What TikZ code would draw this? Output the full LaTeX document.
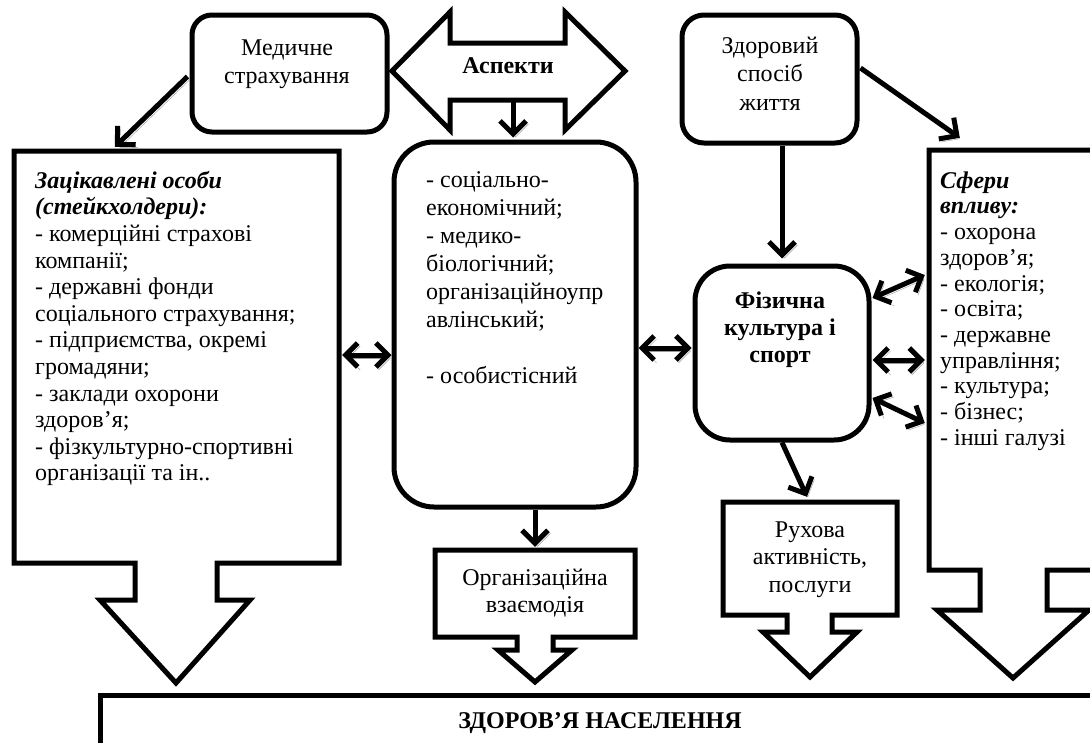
\documentclass[tikz,border=0pt]{standalone}
\usepackage{fontspec}
\setmainfont{Liberation Serif}
\usetikzlibrary{arrows.meta,calc}
\tikzset{
  box/.style={draw, line width=5pt, fill=white},
  rbox/.style={box, rounded corners=#1},
  ghost/.style={draw=none, inner sep=0pt},
  txt/.style={inner sep=0pt, font=\fontsize{24}{28}\selectfont},
  shad/.style={preaction={draw=black!40, transform canvas={shift={(2.5pt,-3pt)}}}},
  tip/.style={Straight Barb[length=13pt,width=26pt]},
  arr/.style={line width=5pt, -{Straight Barb[length=13pt,width=26pt]}, shad},
  darr/.style={line width=5pt, {Straight Barb[length=12pt,width=24pt]}-{Straight Barb[length=12pt,width=24pt]}, shad},
}
\newcommand{\fl}{\rule{0pt}{18pt}}
\begin{document}
\begin{tikzpicture}[x=1pt,y=-1pt]
\useasboundingbox (0,0) rectangle (1090,742);
\clip (0,0) rectangle (1090,742);
% ---------- boxes ----------
\node[rbox=20pt, minimum width=195pt, minimum height=117pt] (med) at (289.5,73.5) {};
\node[rbox=22pt, minimum width=175pt, minimum height=128pt] (hls) at (769.5,79) {};
\node[rbox=40pt, minimum width=242pt, minimum height=365pt] (aspbox) at (515,324.5) {};
\node[rbox=35pt, minimum width=174pt, minimum height=174pt] (phys) at (782,353) {};
% block arrows (shapes)
\draw[box, line join=miter] (14,151) -- (339,151) -- (339,563) -- (217,563) -- (217,600) -- (250,600) -- (176,683) -- (100,600) -- (135,600) -- (135,563) -- (14,563) -- cycle;
\draw[box, line join=miter] (435,550) -- (635,550) -- (635,637) -- (553,637) -- (553,650) -- (572,650) -- (535,682) -- (498,650) -- (517,650) -- (517,637) -- (435,637) -- cycle;
\draw[box, line join=miter] (723,502) -- (897,502) -- (897,615) -- (832,615) -- (832,632) -- (857,632) -- (810,677) -- (763,632) -- (787,632) -- (787,615) -- (723,615) -- cycle;
\draw[box, line join=miter] (929,150) -- (1110,150) -- (1110,570) -- (1047,570) -- (1047,610) -- (1089,610) -- (1013,678) -- (937,610) -- (980,610) -- (980,570) -- (929,570) -- cycle;
\draw[box, line join=miter] (100,695) rectangle (1110,770);
\draw[box, line join=miter] (392,71) -- (450,12) -- (450,43) -- (565,43) -- (565,12) -- (625,71) -- (565,130) -- (565,100) -- (450,100) -- (450,130) -- cycle;
% invisible frames of the block-arrow boxes
\node[ghost, minimum width=325pt, minimum height=412pt] (lbox) at (176.5,357) {};
\node[ghost, minimum width=200pt, minimum height=87pt] (org) at (535,593.5) {};
\node[ghost, minimum width=174pt, minimum height=113pt] (rukh) at (810,558.5) {};
\node[ghost, minimum width=171pt, minimum height=420pt] (rbox) at (1014.5,360) {};
% ---------- texts ----------
\node[txt, anchor=north, align=center, font=\fontsize{24}{28}\selectfont] (medt) at (287,37) {\fl Медичне\\ страхування};
\node[txt, anchor=north, align=center, font=\fontsize{24}{28.5}\selectfont] (hlst) at (770,35) {\fl Здоровий\\ спосіб\\ життя};
\node[txt, anchor=base, font=\fontsize{24}{28}\selectfont\bfseries] (asp) at (508,73) {Аспекти};
\node[txt, anchor=north west, align=left, font=\fontsize{24}{26.6}\selectfont] (lboxt) at (35,170)
  {\fl\textbf{\textit{Зацікавлені особи}}\\ \textbf{\textit{(стейкхолдери):}}\\ - комерційні страхові\\ компанії;\\ - державні фонди\\ соціального страхування;\\ - підприємства, окремі\\ громадяни;\\ - заклади охорони\\ здоров’я;\\ - фізкультурно-спортивні\\ організації та ін..};
\node[txt, anchor=north west, align=left, font=\fontsize{24}{28}\selectfont] (aspt) at (426,169)
  {\fl - соціально-\\ економічний;\\ - медико-\\ біологічний;\\ організаційноупр\\ авлінський;\\[28pt] - особистісний};
\node[txt, anchor=north west, align=left, font=\fontsize{24}{25.7}\selectfont] (rboxt) at (940,170)
  {\fl\textbf{\textit{Сфери}}\\ \textbf{\textit{впливу:}}\\ - охорона\\ здоров’я;\\ - екологія;\\ - освіта;\\ - державне\\ управління;\\ - культура;\\ - бізнес;\\ - інші галузі};
\node[txt, anchor=north, align=center, font=\fontsize{24}{27}\selectfont\bfseries] (physt) at (780,290) {\fl Фізична\\ культура і\\ спорт};
\node[txt, anchor=north, align=center, font=\fontsize{24}{27.5}\selectfont] (rukht) at (810,519) {\fl Рухова\\ активність,\\ послуги};
\node[txt, anchor=north, align=center, font=\fontsize{24}{27}\selectfont] (orgt) at (535,567) {\fl Організаційна\\ взаємодія};
\node[txt, anchor=base, font=\fontsize{24}{28}\selectfont\bfseries] (pop) at (600,728) {ЗДОРОВ’Я НАСЕЛЕННЯ};
% ---------- connectors ----------
\coordinate (aspbot) at (513,100);
\draw[arr] ($(med.west)+(-2,3)$) -- ($(lbox.north west)+(101,-4)$);
\draw[arr] (aspbot) -- ($(aspbox.north -| aspbot)+(0,-2)$);
\draw[arr] (hls.south -| phys.north) -- ($(phys.north)+(0,-5)$);
\draw[arr] ($(hls.east)+(1,-11)$) -- ($(rbox.north west)+(31,-12)$);
\draw[darr] ($(lbox.east)+(3,-2)$) -- ($(aspbox.west)+(0,30.5)$);
\draw[darr] ($(aspbox.east)+(0,23.5)$) -- ($(phys.west)+(-1,-5)$);
\draw[darr] ($(phys.east)+(1,-55)$) -- ($(rbox.west)+(-4,-85)$);
\draw[darr] ($(phys.east)+(1,7)$) -- ($(rbox.west)+(-4,0)$);
\draw[darr] ($(phys.east)+(1,45)$) -- ($(rbox.west)+(-4,63)$);
\draw[arr] (phys.south) -- ($(rukh.north)+(-3,-5)$);
\draw[arr] (aspbox.south -| org.north) -- ($(org.north)+(0,-3)$);
\end{tikzpicture}
\end{document}
